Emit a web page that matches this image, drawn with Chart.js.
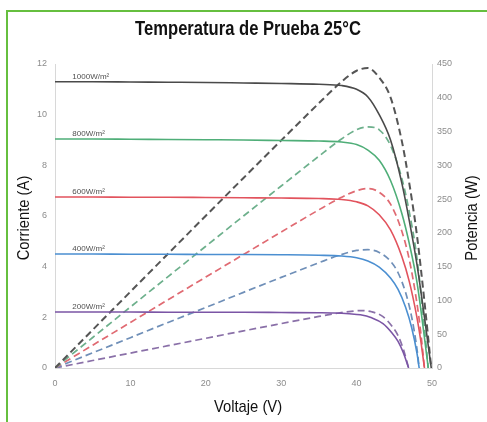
<!DOCTYPE html>
<html>
<head>
<meta charset="utf-8">
<script src="https://cdn.jsdelivr.net/npm/chart.js@4/dist/chart.umd.min.js"></script>
<style>
  html, body { margin: 0; padding: 0; background: #ffffff; }
  #wrap { position: relative; width: 487px; height: 422px; overflow: hidden; }
  #c { position: absolute; left: 0; top: 0; }
  #frame { position: absolute; left: 6px; top: 10px; width: 500px; height: 440px;
           border-top: 2px solid #66bf3f; border-left: 2px solid #66bf3f; pointer-events: none; }
</style>
</head>
<body>
<div id="wrap">
  <canvas id="c" width="487" height="422"></canvas>
  <div id="frame"></div>
</div>
<script>
// ---- data ----
const chartTitle = "Temperatura de Prueba 25°C";
const xTitle = "Voltaje (V)";
const yLeftTitle = "Corriente (A)";
const yRightTitle = "Potencia (W)";
const irradianceLabels = ["1000W/m²", "800W/m²", "600W/m²", "400W/m²", "200W/m²"];
const seriesColors = ["#4a4a4a", "#4fae78", "#e2535d", "#4b8fd1", "#7b55a5"];
const powerColors  = ["#555555", "#6db08c", "#e06a72", "#6f8fb8", "#8a70a8"];

const v1000 = [0, 5, 10, 15, 20, 25, 30, 35, 38, 40, 41.5, 43, 44.5, 46, 47, 48, 49, 49.9];
const i1000 = [11.3, 11.3, 11.29, 11.28, 11.27, 11.25, 11.23, 11.2, 11.15, 11.0, 10.7, 10.0, 9.0, 7.3, 5.8, 4.1, 2.0, 0];
const p1000 = [0, 56.5, 112.9, 169.2, 225.4, 281.3, 336.9, 392, 423.7, 440, 444, 430, 400.5, 335.8, 272.6, 196.8, 98, 0];

const v800 = [0, 5, 10, 15, 20, 25, 30, 35, 38, 40, 41.5, 43, 44.5, 46, 47, 48, 49, 49.5];
const i800 = [9.04, 9.04, 9.03, 9.02, 9.01, 9.0, 8.98, 8.96, 8.92, 8.82, 8.6, 8.2, 7.4, 6.1, 4.9, 3.4, 1.2, 0];
const p800 = [0, 45.2, 90.3, 135.3, 180.2, 225, 269.4, 313.6, 339, 352.8, 356.9, 352.6, 329.3, 280.6, 230.3, 163.2, 58.8, 0];

const v600 = [0, 5, 10, 15, 20, 25, 30, 35, 38, 40, 41.5, 43, 44.5, 46, 47, 48, 48.5, 49];
const i600 = [6.75, 6.75, 6.74, 6.74, 6.73, 6.72, 6.71, 6.69, 6.65, 6.56, 6.4, 6.05, 5.45, 4.4, 3.4, 2.0, 1.1, 0];
const p600 = [0, 33.8, 67.4, 101.1, 134.6, 168, 201.3, 234.2, 252.7, 262.4, 265.6, 260.2, 242.5, 202.4, 159.8, 96, 53.4, 0];

const v400 = [0, 5, 10, 15, 20, 25, 30, 35, 38, 40, 41.5, 43, 44.5, 45.5, 46.5, 47.3, 48, 48.3];
const i400 = [4.5, 4.5, 4.49, 4.49, 4.48, 4.48, 4.47, 4.45, 4.42, 4.35, 4.22, 3.98, 3.55, 3.1, 2.4, 1.6, 0.6, 0];
const p400 = [0, 22.5, 44.9, 67.4, 89.6, 112, 134.1, 155.8, 168, 174, 175.1, 171.1, 158, 141, 111.6, 75.7, 28.8, 0];

const v200 = [0, 5, 10, 15, 20, 25, 30, 35, 37, 39, 40.5, 42, 43.5, 44.7, 45.5, 46.2, 46.9];
const i200 = [2.21, 2.21, 2.21, 2.2, 2.2, 2.2, 2.19, 2.18, 2.17, 2.14, 2.1, 1.98, 1.75, 1.38, 1.05, 0.6, 0];
const p200 = [0, 11.05, 22.1, 33, 44, 55, 65.7, 76.3, 80.3, 83.5, 85, 83.2, 76.1, 61.7, 47.8, 27.7, 0];

const voltages = [v1000, v800, v600, v400, v200];
const currents = [i1000, i800, i600, i400, i200];
const powers   = [p1000, p800, p600, p400, p200];

const xTicks = [0, 10, 20, 30, 40, 50];
const currentTicks = [0, 2, 4, 6, 8, 10, 12];
const powerTicks = [0, 50, 100, 150, 200, 250, 300, 350, 400, 450];

// ---- build datasets ----
const pts = (xs, ys) => xs.map((x, k) => ({ x: x, y: ys[k] }));
const datasets = [];
for (let s = 0; s < 5; s++) {
  datasets.push({
    label: irradianceLabels[s] + " I",
    data: pts(voltages[s], currents[s]),
    yAxisID: 'yI',
    borderColor: seriesColors[s],
    borderWidth: 1.6,
    pointRadius: 0,
    cubicInterpolationMode: 'monotone',
    fill: false
  });
}
for (let s = 0; s < 5; s++) {
  datasets.push({
    label: irradianceLabels[s] + " P",
    data: pts(voltages[s], powers[s]),
    yAxisID: 'yP',
    borderColor: powerColors[s],
    borderWidth: s === 0 ? 2 : 1.7,
    borderDash: [7, 4],
    pointRadius: 0,
    cubicInterpolationMode: 'monotone',
    fill: false
  });
}

const SANS = '"Liberation Sans", Arial, sans-serif';

// condensed text helper (Helvetica-Condensed look)
function condensedText(ctx, text, x, y, rot, font, squeeze) {
  ctx.save();
  ctx.translate(x, y);
  ctx.rotate(rot);
  ctx.scale(squeeze, 1);
  ctx.font = font;
  ctx.fillStyle = '#111111';
  ctx.textAlign = 'center';
  ctx.textBaseline = 'middle';
  ctx.fillText(text, 0, 0);
  ctx.restore();
}

const textPlugin = {
  id: 'textPlugin',
  afterDatasetsDraw(chart) {
    const ctx = chart.ctx;
    const xs = chart.scales.x, ys = chart.scales.yI;
    const area = chart.chartArea;
    // irradiance labels on the current curves
    ctx.save();
    ctx.font = '8px ' + SANS;
    ctx.fillStyle = '#505050';
    ctx.textAlign = 'left';
    ctx.textBaseline = 'bottom';
    for (let s = 0; s < 5; s++) {
      ctx.fillText(irradianceLabels[s], xs.getPixelForValue(2.3), ys.getPixelForValue(currents[s][0]) - 1);
    }
    ctx.restore();
    const midY = (area.top + area.bottom) / 2 + 2;
    condensedText(ctx, chartTitle, 248, 29, 0, 'bold 21px ' + SANS, 0.79);
    condensedText(ctx, xTitle, 248, 407, 0, '17px ' + SANS, 0.87);
    condensedText(ctx, yLeftTitle, 24, midY, -Math.PI / 2, '17px ' + SANS, 0.87);
    condensedText(ctx, yRightTitle, 472, midY, -Math.PI / 2, '17px ' + SANS, 0.87);
  }
};

const tickFont = { family: SANS, size: 9 };

new Chart(document.getElementById('c'), {
  type: 'line',
  data: { datasets: datasets },
  plugins: [textPlugin],
  options: {
    responsive: false,
    animation: false,
    layout: { padding: { top: 64, left: 0, right: 0, bottom: 0 } },
    plugins: {
      legend: { display: false },
      tooltip: { enabled: false },
      title: { display: false }
    },
    scales: {
      x: {
        type: 'linear',
        min: 0, max: 50,
        afterBuildTicks: (sc) => { sc.ticks = xTicks.map(v => ({ value: v })); },
        afterFit: (sc) => { sc.height = 54; },
        grid: { display: false, drawTicks: false },
        border: { display: true, color: '#d8d8d8', width: 1 },
        ticks: { color: '#8c8c8c', font: tickFont, padding: 10, maxRotation: 0 }
      },
      yI: {
        type: 'linear', position: 'left',
        min: 0, max: 12,
        afterBuildTicks: (sc) => { sc.ticks = currentTicks.map(v => ({ value: v })); },
        afterFit: (sc) => { sc.width = 55; },
        grid: { display: false, drawTicks: false },
        border: { display: true, color: '#d8d8d8', width: 1 },
        ticks: { color: '#8c8c8c', font: tickFont, padding: 8 }
      },
      yP: {
        type: 'linear', position: 'right',
        min: 0, max: 450,
        afterBuildTicks: (sc) => { sc.ticks = powerTicks.map(v => ({ value: v })); },
        afterFit: (sc) => { sc.width = 55; },
        grid: { display: false, drawTicks: false },
        border: { display: true, color: '#d8d8d8', width: 1 },
        ticks: { color: '#8c8c8c', font: tickFont, padding: 5 }
      }
    }
  }
});
</script>
</body>
</html>
